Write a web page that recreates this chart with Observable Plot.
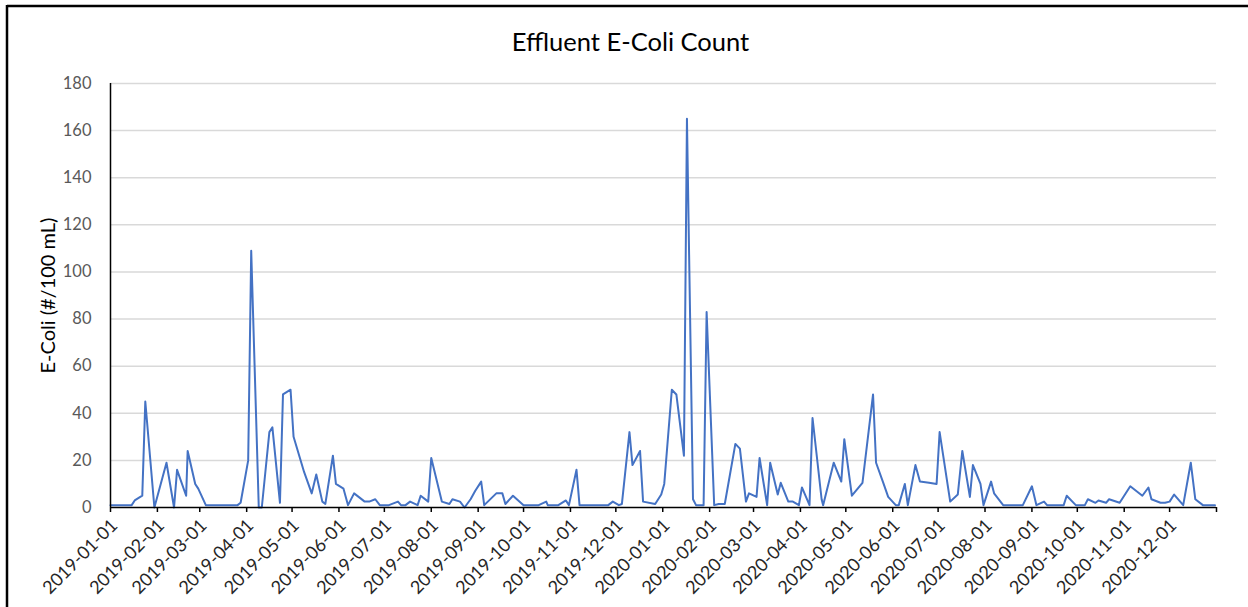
<!DOCTYPE html>
<html>
<head>
<meta charset="utf-8">
<script src="https://cdn.jsdelivr.net/npm/d3@7"></script>
<script src="https://cdn.jsdelivr.net/npm/@observablehq/plot@0.6"></script>
<style>
  html, body { margin: 0; padding: 0; background: #fff; }
  #chart svg { display: block; }
</style>
</head>
<body>
<div id="chart"></div>
<script>
const title = "Effluent E-Coli Count";
const yLabel = "E-Coli (#/100 mL)";
const yTicks = [0, 20, 40, 60, 80, 100, 120, 140, 160, 180];

const dates = [
  "2019-01-01","2019-01-15","2019-01-17","2019-01-22","2019-01-24","2019-01-30",
  "2019-02-07","2019-02-12","2019-02-14","2019-02-20","2019-02-21","2019-02-26","2019-02-28",
  "2019-03-05","2019-03-26","2019-03-28",
  "2019-04-02","2019-04-04","2019-04-09","2019-04-11","2019-04-16","2019-04-18","2019-04-23","2019-04-25","2019-04-30",
  "2019-05-02","2019-05-09","2019-05-14","2019-05-17","2019-05-21","2019-05-23","2019-05-28","2019-05-30",
  "2019-06-04","2019-06-07","2019-06-11","2019-06-14","2019-06-18","2019-06-21","2019-06-25","2019-06-28",
  "2019-07-04","2019-07-10","2019-07-12","2019-07-15","2019-07-18","2019-07-23","2019-07-25","2019-07-30",
  "2019-08-01","2019-08-08","2019-08-13","2019-08-15","2019-08-20","2019-08-23","2019-08-27","2019-08-30",
  "2019-09-03","2019-09-05","2019-09-13","2019-09-17","2019-09-19","2019-09-24",
  "2019-10-01","2019-10-11","2019-10-16","2019-10-17","2019-10-24","2019-10-29","2019-10-31",
  "2019-11-05","2019-11-07","2019-11-26","2019-11-29",
  "2019-12-03","2019-12-05","2019-12-10","2019-12-12","2019-12-17","2019-12-19","2019-12-27","2019-12-31",
  "2020-01-02","2020-01-07","2020-01-10","2020-01-15","2020-01-17","2020-01-21","2020-01-23","2020-01-28","2020-01-30",
  "2020-02-04","2020-02-07","2020-02-11","2020-02-18","2020-02-21","2020-02-25","2020-02-27",
  "2020-03-03","2020-03-05","2020-03-10","2020-03-12","2020-03-17","2020-03-19","2020-03-24","2020-03-27","2020-03-31",
  "2020-04-02","2020-04-07","2020-04-09","2020-04-15","2020-04-16","2020-04-23","2020-04-28","2020-04-30",
  "2020-05-05","2020-05-12","2020-05-19","2020-05-21","2020-05-26","2020-05-29",
  "2020-06-03","2020-06-05","2020-06-09","2020-06-11","2020-06-16","2020-06-19","2020-06-25","2020-06-30",
  "2020-07-02","2020-07-09","2020-07-14","2020-07-17","2020-07-22","2020-07-24","2020-07-29","2020-07-31",
  "2020-08-05","2020-08-07","2020-08-13","2020-08-26",
  "2020-09-01","2020-09-04","2020-09-09","2020-09-11","2020-09-22","2020-09-24","2020-09-30",
  "2020-10-06","2020-10-08","2020-10-13","2020-10-15","2020-10-20","2020-10-22","2020-10-29",
  "2020-11-05","2020-11-13","2020-11-17","2020-11-19","2020-11-25","2020-11-28",
  "2020-12-01","2020-12-04","2020-12-10","2020-12-15","2020-12-18","2020-12-23","2020-12-31"
];

const ecoli = [
  1,1,3,5,45,0,
  19,0,16,5,24,10,8,
  1,1,2,
  20,109,0,0,32,34,2,48,50,
  30,15,6,14,2.5,1.5,22,10,
  8,1,6,4.5,2.5,2.5,3.5,1,
  1,2.5,1,1,2.5,1,5,2.5,
  21,2.5,1.5,3.5,2.5,0,3.5,7,
  11,1,6,6,1.5,5,
  1,1,2.5,1,1,3,1,
  16,1,1,2.5,
  1,1.5,32,18,24,2.5,1.5,5.5,
  10,50,48,22,165,3.5,1,1,83,
  1,1.5,1.5,27,25,2.5,6,
  4.5,21,1,19,5.5,10.5,2.5,2.5,1,
  8.5,1,38,3.5,1,19,11,29,
  5,10.5,48,19,10,4.5,
  1,1,10,1,18,11,10.5,10,
  32,2.5,5.5,24,4.5,18,10,1,
  11,6,1,1,
  9,1,2.5,1,1,5,1,
  1,3.5,2,3,2,3.5,2,
  9,5,8.5,3.5,2,2,
  2.5,5.5,1,19,3.5,1,1
];

const data = dates.map((d, i) => ({date: new Date(d + "T00:00:00Z"), value: ecoli[i]}));

const xStart = new Date("2019-01-01T00:00:00Z");
const xEnd = new Date("2021-01-01T00:00:00Z");
const monthTicks = d3.utcMonth.range(xStart, d3.utcDay.offset(xEnd, 1));
const fmt = d3.utcFormat("%Y-%m-%d");

const FONT = "Lato, 'Open Sans', sans-serif";

const plot = Plot.plot({
  width: 1248,
  height: 607,
  marginLeft: 110,
  marginRight: 32,
  marginTop: 83,
  marginBottom: 100,
  style: {fontFamily: FONT, background: "#fff", color: "#595959"},
  x: {type: "utc", domain: [xStart, xEnd]},
  y: {domain: [0, 180]},
  marks: [
    Plot.gridY(yTicks.filter(t => t > 0), {stroke: "#d9d9d9", strokeOpacity: 1, strokeWidth: 1.5}),
    Plot.axisY(yTicks, {tickSize: 0, tickPadding: 19, fontSize: 16.5, fill: "#595959", label: null}),
    // tick marks
    Plot.axisX(monthTicks, {tickSize: 5, stroke: "#000", strokeWidth: 1.5, tickFormat: () => "", label: null}),
    // rotated tick labels
    Plot.axisX(monthTicks, {
      tickSize: 0, tickRotate: -45, tickPadding: 15, dx: 4, fontSize: 18, fill: "#262626",
      tickFormat: d => (+d === +xEnd ? "" : fmt(d)), label: null
    }),
    Plot.line(data, {x: "date", y: "value", stroke: "#4472C4", strokeWidth: 2}),
    Plot.ruleY([0], {stroke: "#000", strokeWidth: 1.5}),
    Plot.ruleX([xStart], {y1: 0, y2: 180, stroke: "#000", strokeWidth: 1.5}),
    Plot.text([title], {frameAnchor: "top", dx: -33, dy: -41, fontSize: 25.5, fill: "#000", textAnchor: "middle", lineAnchor: "middle"}),
    Plot.text([yLabel], {frameAnchor: "left", dx: -62, rotate: -90, fontSize: 20, fill: "#000", textAnchor: "middle", lineAnchor: "middle"})
  ]
});

document.getElementById("chart").appendChild(plot);

// chart-area border (top and left edges visible in the reference)
const svg = d3.select(plot);
svg.append("line").attr("x1", 7).attr("x2", 1248).attr("y1", 6).attr("y2", 6).attr("stroke", "#000").attr("stroke-width", 2.5);
svg.append("line").attr("x1", 7).attr("x2", 7).attr("y1", 5).attr("y2", 607).attr("stroke", "#000").attr("stroke-width", 2.5);
</script>
</body>
</html>
